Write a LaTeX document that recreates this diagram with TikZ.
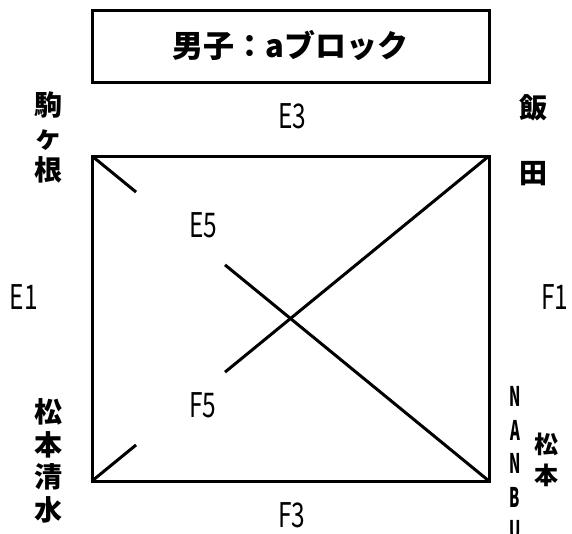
\documentclass[tikz,border=0pt]{standalone}
\usepackage{fontspec}
\newfontfamily\jpfont{Noto Sans CJK JP}
\newfontfamily\latfont[FakeStretch=0.72]{Noto Sans CJK JP}
\newfontfamily\narrowfont[FakeStretch=0.55]{Noto Sans CJK JP}
\usetikzlibrary{positioning}
\usetikzlibrary{calc}
\tikzset{
	x = 1pt,
	y = -1pt,
	every path/.style={line width=3pt},
	titlebox/.style={draw, minimum width=397pt, minimum height=72pt, inner sep=0pt,
		font=\jpfont\bfseries\fontsize{31}{31}\selectfont},
	team/.style={align=center, inner sep=0pt, font=\jpfont\bfseries\fontsize{28}{32.5}\selectfont},
	smallteam/.style={align=center, inner sep=0pt, font=\jpfont\bfseries\fontsize{24}{31}\selectfont},
	vlatin/.style={align=center, inner sep=0pt, font=\narrowfont\bfseries\fontsize{27}{33.5}\selectfont},
	game/.style={inner sep=0pt, font=\latfont\fontsize{34}{34}\selectfont}
}
\begin{document}
\begin{tikzpicture}
	\useasboundingbox (0,0) rectangle (572,533);
	% Title
	\node (title) [titlebox] at (290.5,46) {男子：aブロック};

	% corners
	\coordinate (tl) at (92,156);
	\coordinate (tr) at (489,156);
	\coordinate (bl) at (92,481);
	\coordinate (br) at (489,481);

	\node (komagane) [team] at (48,137) {駒\\ヶ\\根};
	\node (iida) [team] at (533,140) {飯\\ \\田};
	\node (shimizu) [team] at (48,461) {松\\本\\清\\水};
	\node (nanbu) [vlatin, anchor=north] at (515,385) {N\\A\\N\\B\\U};
	\node (matsumoto) [smallteam] at (546,460) {松\\本};

	\node (e3) [game] at (292,116) {E3};
	\node (e1) [game] at (24,297) {E1};
	\node (f1) [game] at (555,297) {F1};
	\node (e5) [game] at (203,225) {E5};
	\node (f5) [game] at (203,405) {F5};
	\node (f3) [game] at (292,515) {F3};

	\draw[line join=miter] (tl) -- (tr) -- (br) -- (bl) -- cycle;
	\draw (tl) -- ($(tl)!0.111!(br)$);
	\draw ($(tl)!0.335!(br)$) -- (br);
	\draw (bl) -- ($(bl)!0.111!(tr)$);
	\draw ($(bl)!0.335!(tr)$) -- (tr);
\end{tikzpicture}
\end{document}
